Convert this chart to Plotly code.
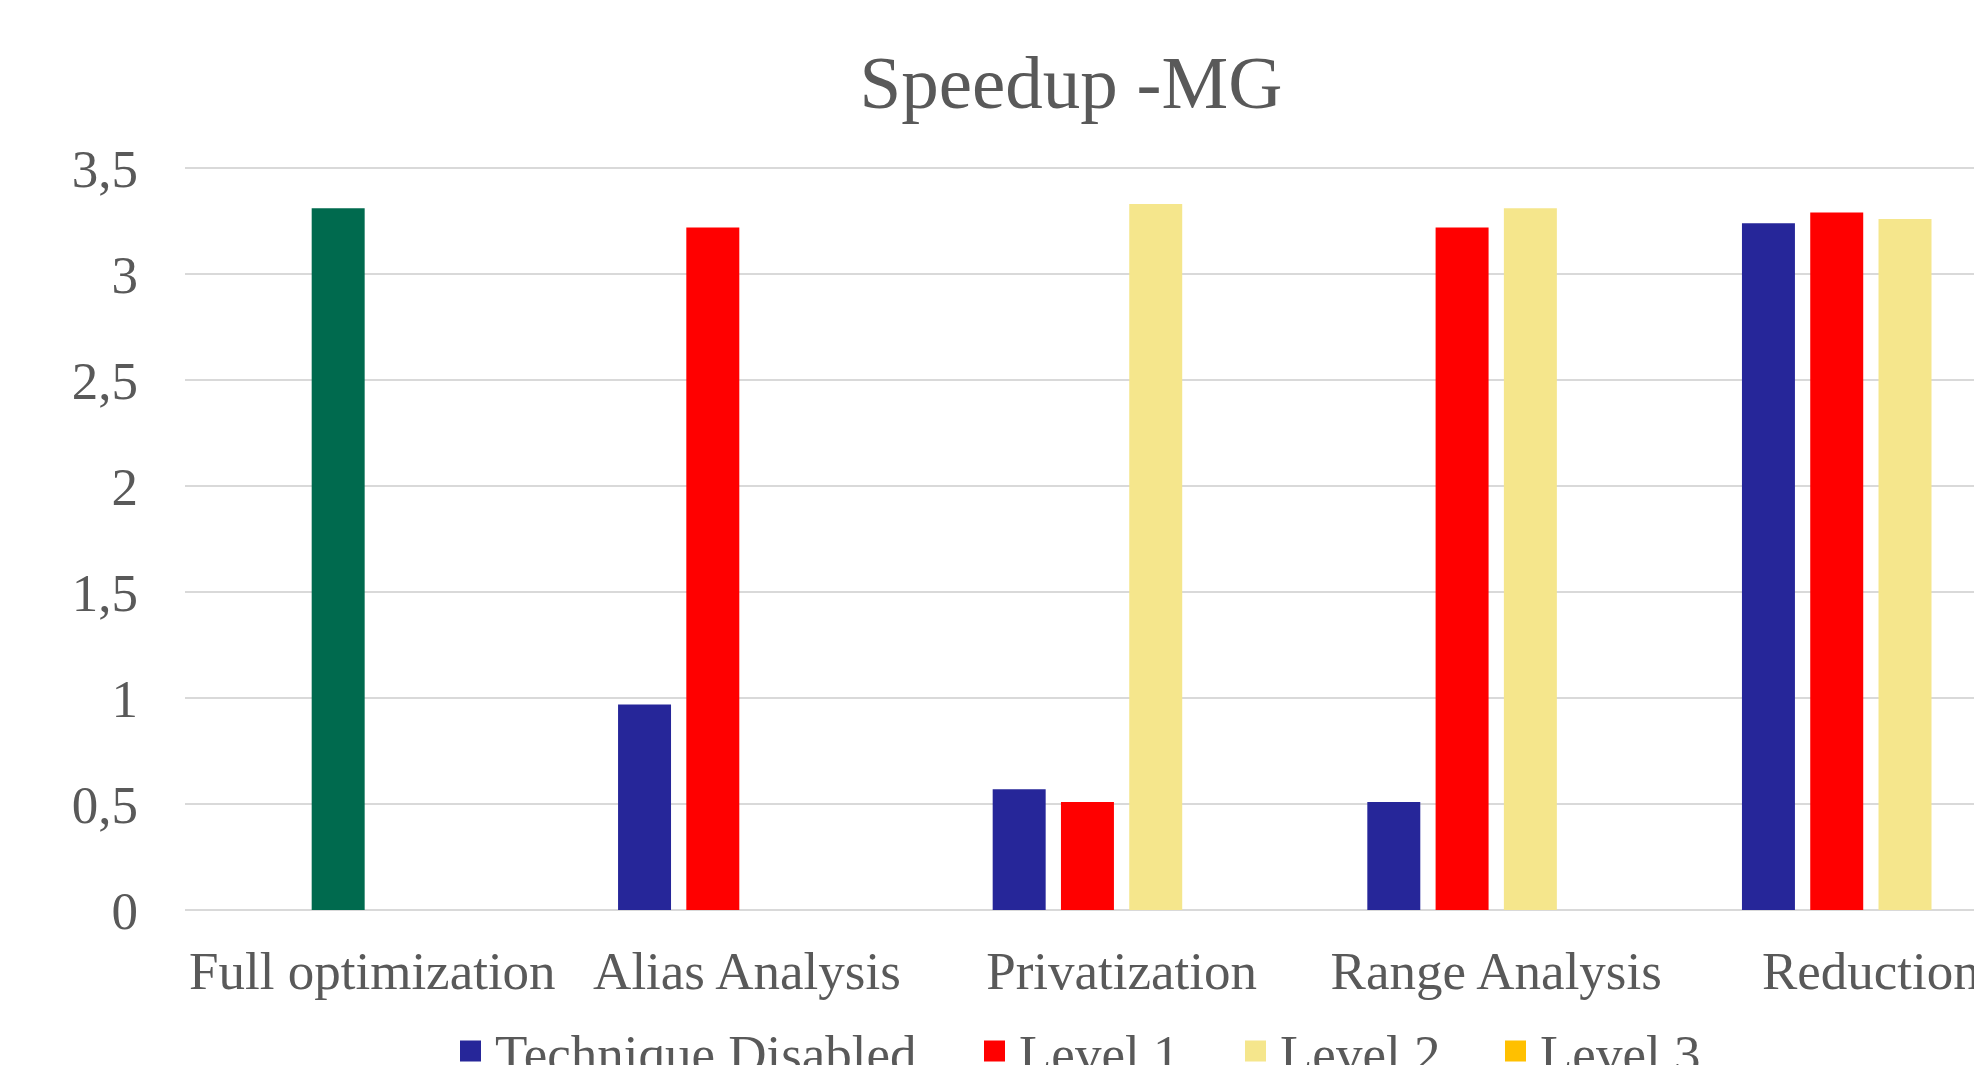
import plotly.graph_objects as go

# ---- data ----
categories = ["Full optimization", "Alias Analysis", "Privatization", "Range Analysis", "Reduction"]
technique_disabled = [None, 0.97, 0.57, 0.51, 3.24]
full_optimization = [3.31, None, None, None, None]
level_1 = [None, 3.22, 0.51, 3.22, 3.29]
level_2 = [None, None, 3.33, 3.31, 3.26]
level_3 = [None, None, None, None, None]
series_names = ["Technique Disabled", "Level 1", "Level 2", "Level 3"]
y_tick_vals = [0, 0.5, 1, 1.5, 2, 2.5, 3, 3.5]
y_tick_text = ["0", "0,5", "1", "1,5", "2", "2,5", "3", "3,5"]
title_text = "Speedup -MG"

# ---- styles ----
FONT = "Liberation Serif, Times New Roman, serif"
TXT = "#595959"
GRID = "#D9D9D9"
series_colors = ["#262699", "#FF0000", "#F5E68C", "#FFC000"]
c_green = "#006A4E"
series_values = [technique_disabled, level_1, level_2, level_3]
groups = ["g0", "g1", "g2", "g3"]
legend_ids = ["legend", "legend2", "legend3", "legend4"]
legend_x_px = [438, 962, 1223, 1483]

fig = go.Figure()
for name, vals, col, grp in zip(series_names, series_values, series_colors, groups):
    fig.add_trace(go.Bar(name=name, x=categories, y=vals, offsetgroup=grp,
                         marker=dict(color=col, line=dict(width=0)),
                         showlegend=False, legendgroup=name))
    if grp == "g1":
        # highlighted full-optimization bar in the Level 1 slot
        fig.add_trace(go.Bar(name="Full optimization", x=categories, y=full_optimization,
                             offsetgroup="g1", showlegend=False,
                             marker=dict(color=c_green, line=dict(width=0))))
# legend swatches
for name, col, lid in zip(series_names, series_colors, legend_ids):
    fig.add_trace(go.Scatter(name=name, x=[None], y=[None], mode="markers",
                             marker=dict(symbol="square", size=16, color=col,
                                         line=dict(color=col, width=9)),
                             legend=lid, legendgroup=name, showlegend=True,
                             hoverinfo="skip"))

W, H = 1982, 1065
legend_common = dict(orientation="h", xref="container", yref="container",
                     xanchor="left", y=1 - 1002 / H, yanchor="top",
                     font=dict(family=FONT, size=53, color=TXT),
                     itemwidth=39, bgcolor="rgba(0,0,0,0)")
legend_layout = {lid: dict(legend_common, x=px / W) for lid, px in zip(legend_ids, legend_x_px)}

fig.update_layout(
    width=W, height=H,
    paper_bgcolor="white", plot_bgcolor="white",
    barmode="group", bargap=0.271, bargroupgap=0.224,
    margin=dict(l=177, r=0, t=159, b=163, autoexpand=False),
    font=dict(family=FONT, color=TXT, size=53),
    title=dict(text=title_text, font=dict(family=FONT, size=75, color=TXT),
               x=1063 / W, xref="container", xanchor="center",
               y=1 - 74 / H, yref="container", yanchor="middle"),
    showlegend=True,
    xaxis=dict(range=[-0.5, 4.318], showgrid=False, showline=False, zeroline=False,
               ticks="", tickfont=dict(family=FONT, size=53, color=TXT),
               ticklabelstandoff=25, fixedrange=True),
    yaxis=dict(range=[0, 3.505], tickvals=y_tick_vals, ticktext=y_tick_text,
               showgrid=True, gridcolor=GRID, gridwidth=2,
               zeroline=True, zerolinecolor=GRID, zerolinewidth=2,
               showline=False, ticks="",
               tickfont=dict(family=FONT, size=53, color=TXT),
               ticklabelstandoff=46, fixedrange=True),
    **legend_layout,
)

fig.write_html("out.html")
